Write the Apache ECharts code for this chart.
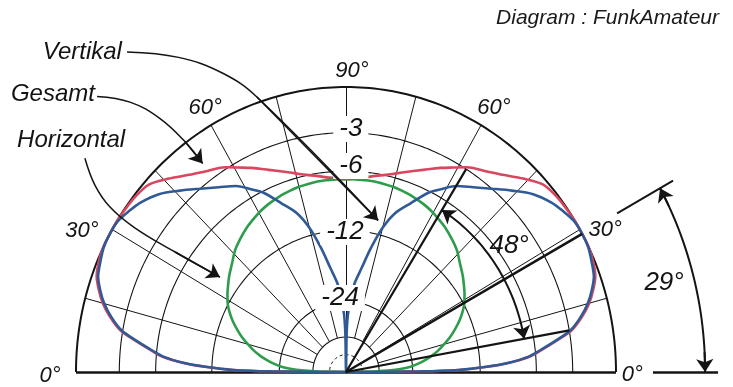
<!DOCTYPE html>
<html>
<head>
<meta charset="utf-8">
<script src="https://cdn.jsdelivr.net/npm/echarts@6/dist/echarts.min.js"></script>
<style>
  html, body { margin: 0; padding: 0; background: #fff; }
  #chart { width: 733px; height: 387px; }
</style>
</head>
<body>
<div id="chart"></div>
<script>
// Elevation angles in degrees; the other half of each pattern is the mirror at 180° - angle
const elevation = [0, 0.5, 1, 2, 3, 4.5, 6, 8, 10, 12.5, 15, 17.5, 20, 23, 26, 29, 32, 35, 38, 42,
  46, 50, 54, 58, 61, 64, 68, 72, 75, 78, 81, 84, 86, 88, 89, 90];

// Relative gain in dB for each elevation angle
const vertikal = [-99, -22, -15, -11.2, -8.8, -6.7, -5.6, -4.2, -2.9, -2.0, -1.3, -0.8, -0.4, -0.2, -0.03, 0,
  -0.05, -0.3, -0.6, -1.2, -2.1, -3.0, -3.8, -4.5, -5.3, -6.1, -7.7, -9.2, -11.1, -13.9, -17.1, -19.8, -22.5,
  -27.6, -35, -99];
const gesamt = [-99, -22, -15, -11.1, -8.7, -6.6, -5.5, -4.1, -2.8, -1.9, -1.2, -0.7, -0.3, -0.1, 0, 0,
  0, -0.05, -0.1, -0.3, -1.0, -1.75, -2.35, -2.85, -3.4, -3.9, -4.6, -5.2, -5.6, -5.95, -6.2, -6.45, -6.55,
  -6.65, -6.7, -6.7];
const horizontal = [-99, -45, -38, -31, -27.5, -24.5, -22.8, -21, -19.5, -18, -16.8, -15.6, -14.6, -13.5,
  -12.6, -11.85, -11.3, -10.8, -10.3, -9.7, -9.0, -8.5, -8.05, -7.7, -7.45, -7.25, -7.05, -6.9, -6.8, -6.75,
  -6.7, -6.7, -6.7, -6.7, -6.7, -6.7];

const seriesNames = ['Vertikal', 'Gesamt', 'Horizontal'];

// Grid of the log-periodic scale
const ringLevels = [0, -3, -6, -12, -24, -36];
const innerRingLevel = -48;
const ringLabels = [-3, -6, -12, -24];
const spokeStep = 15;
const angleLabels = [0, 30, 60, 90, 60, 30, 0];

// Main lobe direction and half-power directions of the total pattern (degrees)
const mainLobe = 29;
const halfPowerLow = 10;
const halfPowerHigh = 58;
const halfPowerLevel = -3;

// ---- scale helpers -------------------------------------------------------
// ARRL log-periodic radius: 0.89 per 2 dB
function gainToRadius(db) { return Math.pow(0.89, -db / 2); }
function polarPoint(angleDeg, r) {
  const a = angleDeg * Math.PI / 180;
  return [r * Math.cos(a), r * Math.sin(a)];
}
function arc(r, a0, a1, step) {
  const pts = [];
  const n = Math.max(2, Math.round(Math.abs(a1 - a0) / step));
  for (let i = 0; i <= n; i++) pts.push(polarPoint(a0 + (a1 - a0) * i / n, r));
  return pts;
}
function patternCurve(gains) {
  const pts = [];
  for (let i = 0; i < elevation.length; i++) pts.push(polarPoint(elevation[i], gainToRadius(gains[i])));
  for (let i = elevation.length - 2; i >= 0; i--) pts.push(polarPoint(180 - elevation[i], gainToRadius(gains[i])));
  return pts;
}

// ---- drawing styles and layout --------------------------------------------
const INK = '#141414';
const FONT = '"Liberation Sans", Arial, sans-serif';
const FONT_NARROW = '"Liberation Sans Narrow", "Arial Narrow", "Liberation Sans", sans-serif';
const colors = { Vertikal: '#2f5a96', Gesamt: '#d8475f', Horizontal: '#2e9d4b' };

// label anchor points in chart units (x: -1..1 across the base, y: 0..1 up)
const angleLabelPos = [[1.06, -0.01], [0.96, 0.5], [0.548, 0.926], [0.022, 1.058],
  [-0.522, 0.926], [-0.978, 0.495], [-1.096, -0.014]];
const ringLabelX = [0.018, 0.018, -0.004, -0.022];
const ringLabelDy = [0.013, 0.018, -0.006, 0.013];
const nameLabelPos = [[-0.83, 1.121], [-0.93, 0.975], [-0.818, 0.814]];
const beamLabelPos = [0.604, 0.442];
const lobeLabelPos = [1.178, 0.312];

// leader curves from the series names to their traces
const pointerPaths = [
  [[-0.811, 1.123], [-0.62, 1.104], [-0.46, 1.05], [-0.33, 0.965], [0.119, 0.532]],
  [[-0.922, 0.967], [-0.80, 0.947], [-0.69, 0.89], [-0.596, 0.808], [-0.531, 0.732]],
  [[-0.967, 0.75], [-0.93, 0.656], [-0.874, 0.579], [-0.781, 0.505], [-0.633, 0.421], [-0.467, 0.333]]
];

const series = [];

// rings
ringLevels.forEach(level => {
  const outer = level === 0;
  series.push({
    type: 'line', data: arc(gainToRadius(level), 0, 180, 1), showSymbol: false, silent: true,
    clip: false, z: 1,
    lineStyle: { color: INK, width: outer ? 2 : 1.1 }
  });
});
series.push({
  type: 'line', data: arc(gainToRadius(innerRingLevel), 0, 180, 3), showSymbol: false, silent: true,
  clip: false, z: 1, lineStyle: { color: INK, width: 1, type: [3, 3] }
});

// spokes
const spokeSegs = [];
for (let a = spokeStep; a < 180; a += spokeStep) {
  spokeSegs.push({ coords: [polarPoint(a, gainToRadius(ringLevels[ringLevels.length - 1])), polarPoint(a, 1)] });
}
series.push({
  type: 'lines', coordinateSystem: 'cartesian2d', data: spokeSegs, silent: true, clip: false, z: 1,
  lineStyle: { color: INK, width: 1, opacity: 1 }
});

// base line and its extension used by the lobe angle marker
series.push({
  type: 'lines', coordinateSystem: 'cartesian2d', silent: true, clip: false, z: 2,
  data: [{ coords: [[-1, 0], [1, 0]] }, { coords: [polarPoint(0, 1.137), polarPoint(0, 1.378)] }],
  lineStyle: { color: INK, width: 2.6, opacity: 1 }
});

// radiation patterns
[['Gesamt', gesamt], ['Horizontal', horizontal], ['Vertikal', vertikal]].forEach(([name, gains], i) => {
  series.push({
    name, type: 'line', data: patternCurve(gains), showSymbol: false, smooth: 0.3, clip: false,
    z: 3 + i * 0.1, silent: true,
    lineStyle: { color: colors[name], width: 2.6 }
  });
});

// main lobe direction and half-power directions
const hpR = gainToRadius(halfPowerLevel);
series.push({
  type: 'lines', coordinateSystem: 'cartesian2d', silent: true, clip: false, z: 4,
  data: [
    { coords: [[0, 0], polarPoint(mainLobe, 1)], lineStyle: { width: 2.6 } },
    { coords: [polarPoint(mainLobe, 1.148), polarPoint(mainLobe, 1.385)], lineStyle: { width: 2 } },
    { coords: [[0, 0], polarPoint(halfPowerHigh, hpR)] },
    { coords: [[0, 0], polarPoint(halfPowerLow, hpR)] }
  ],
  lineStyle: { color: INK, width: 2.2, opacity: 1 }
});

// angle arcs (beam width and lobe elevation)
const beamR = 0.67, lobeR = 1.33;
series.push({
  type: 'lines', coordinateSystem: 'cartesian2d', polyline: true, silent: true, clip: false, z: 4,
  data: [{ coords: arc(beamR, halfPowerLow, halfPowerHigh, 1) }, { coords: arc(lobeR, 0, mainLobe, 1) }],
  lineStyle: { color: INK, width: 2, opacity: 1 }
});

// leader curves (drawn above the scale labels they pass)
pointerPaths.forEach(p => {
  series.push({
    type: 'line', data: p, showSymbol: false, smooth: 0.4, silent: true, clip: false, z: 7,
    lineStyle: { color: INK, width: 1.5 }
  });
});

// arrow heads
const arrowSegs = [
  { coords: [polarPoint(halfPowerLow + 3, beamR), polarPoint(halfPowerLow, beamR)] },
  { coords: [polarPoint(halfPowerHigh - 3, beamR), polarPoint(halfPowerHigh, beamR)] },
  { coords: [polarPoint(3, lobeR), polarPoint(0, lobeR)] },
  { coords: [polarPoint(mainLobe - 3, lobeR), polarPoint(mainLobe, lobeR)] }
];
pointerPaths.forEach(p => arrowSegs.push({ coords: [p[p.length - 2], p[p.length - 1]], lineStyle: { width: 1.5 } }));
series.push({
  type: 'lines', coordinateSystem: 'cartesian2d', data: arrowSegs, silent: true, clip: false, z: 7,
  symbol: ['none', 'arrow'], symbolSize: 13,
  lineStyle: { color: INK, width: 2, opacity: 1 }
});

// text
function textItem(pos, text, opts) {
  return {
    value: pos,
    label: Object.assign({
      show: true, position: 'inside', formatter: text, color: INK, fontStyle: 'italic',
      fontFamily: FONT, fontSize: 22, align: 'center', verticalAlign: 'middle'
    }, opts)
  };
}
const labelItems = [];
angleLabels.forEach((a, i) => labelItems.push(textItem(angleLabelPos[i], a + '°', {})));
ringLabels.forEach((lv, i) => labelItems.push(textItem(
  [ringLabelX[i], gainToRadius(lv) + ringLabelDy[i]], String(lv),
  { fontFamily: FONT_NARROW, fontSize: 26, backgroundColor: '#fff', padding: [0, 6] })));
seriesNames.forEach((n, i) => labelItems.push(textItem(nameLabelPos[i], n, { fontSize: 24, align: 'right' })));
labelItems.push(textItem(beamLabelPos, (halfPowerHigh - halfPowerLow) + '°', { fontFamily: FONT_NARROW, fontSize: 26 }));
labelItems.push(textItem(lobeLabelPos, mainLobe + '°', { fontFamily: FONT_NARROW, fontSize: 26 }));
series.push({
  type: 'scatter', data: labelItems, symbolSize: 1, silent: true, clip: false, z: 6,
  itemStyle: { color: 'rgba(0,0,0,0)', opacity: 1 }
});

const chart = echarts.init(document.getElementById('chart'), null, { renderer: 'canvas' });
chart.setOption({
  animation: false,
  backgroundColor: '#fff',
  title: {
    text: 'Diagram : FunkAmateur', right: 9, top: 3,
    textStyle: { fontFamily: FONT, fontStyle: 'italic', fontWeight: 'normal', fontSize: 21, color: '#1a1a1a' }
  },
  grid: { left: 76, top: 87, width: 540, height: 285 },
  xAxis: { type: 'value', min: -1, max: 1, show: false },
  yAxis: { type: 'value', min: 0, max: 1, show: false },
  series
});
</script>
</body>
</html>
